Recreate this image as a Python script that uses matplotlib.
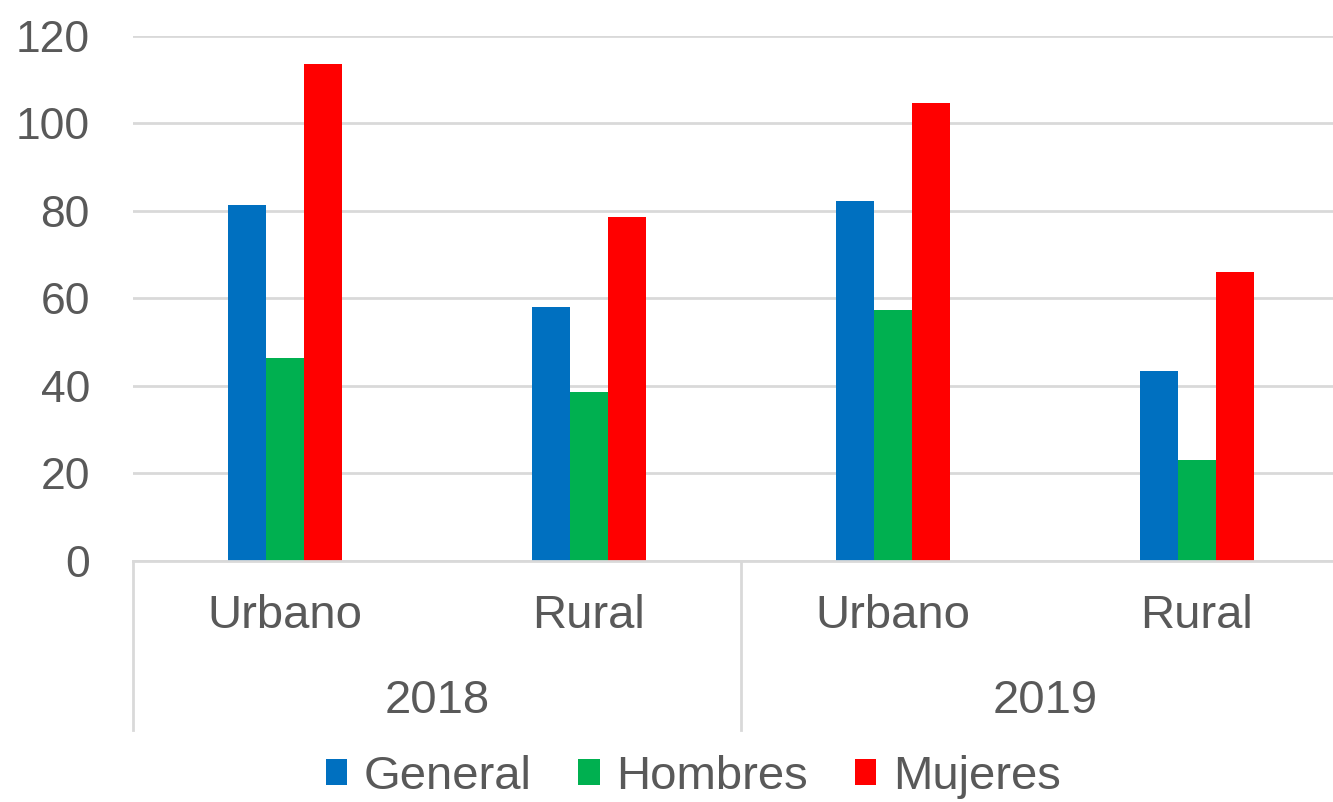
import matplotlib
matplotlib.use("Agg")
import matplotlib.pyplot as plt
import matplotlib.transforms as mtransforms
from matplotlib.lines import Line2D
import numpy as np

plt.rcParams['font.family'] = ['Liberation Sans', 'DejaVu Sans']

categories = ["Urbano", "Rural", "Urbano", "Rural"]
years = ["2018", "2019"]
series_names = ["General", "Hombres", "Mujeres"]
general = [81.3, 57.9, 82.1, 43.5]
hombres = [46.3, 38.7, 57.3, 23.0]
mujeres = [113.5, 78.5, 104.7, 65.9]
colors = ["#0070C0", "#00B050", "#FF0000"]
yticks = [0, 20, 40, 60, 80, 100, 120]

W, H = 1333, 802
fig = plt.figure(figsize=(W / 100, H / 100), dpi=100)
left = 133 / W
right_px = 1349
bottom = 1 - 561 / H
top = 1 - 35.5 / H
ax = fig.add_axes([left, bottom, (right_px - 133) / W, top - bottom])

x = np.arange(len(categories))
bw = 0.125
for i, (vals, name, c) in enumerate(zip([general, hombres, mujeres], series_names, colors)):
    ax.bar(x + (i - 1) * bw, vals, width=bw, color=c, label=name, zorder=3)

ax.set_xlim(-0.5, 3.5)
ax.set_ylim(0, 120)
ax.set_yticks(yticks)
ax.set_yticklabels([str(v) for v in yticks], fontsize=32, color="#595959")
ax.tick_params(axis='y', length=0, pad=31)
ax.set_xticks([])
ax.grid(axis='y', color="#D9D9D9", linewidth=2, zorder=0)
for s in ["left", "right", "top"]:
    ax.spines[s].set_visible(False)
ax.spines["bottom"].set_color("#D9D9D9")
ax.spines["bottom"].set_linewidth(2)
ax.spines["bottom"].set_zorder(4)

trans = mtransforms.blended_transform_factory(ax.transData, fig.transFigure)
for xi, cat in zip(x, categories):
    ax.text(xi, 1 - 616 / H, cat, transform=trans, ha='center', va='center',
            fontsize=34, color="#595959")
for gi, yr in enumerate(years):
    ax.text(gi * 2 + 0.5, 1 - 701 / H, yr, transform=trans, ha='center', va='center',
            fontsize=34, color="#595959")
for xs in [-0.5, 1.5, 3.5]:
    ln = Line2D([xs, xs], [1 - 561 / H, 1 - 730 / H], transform=trans,
                color="#D9D9D9", linewidth=2, clip_on=False)
    fig.add_artist(ln)

fig.legend(loc='center', bbox_to_anchor=(0.52, 1 - 777 / H), ncol=3, frameon=False,
           fontsize=34, labelcolor="#595959", handlelength=0.45, handleheight=0.45,
           handletextpad=0.35, columnspacing=1.0, borderpad=0)

fig.savefig("out.png", dpi=100)
